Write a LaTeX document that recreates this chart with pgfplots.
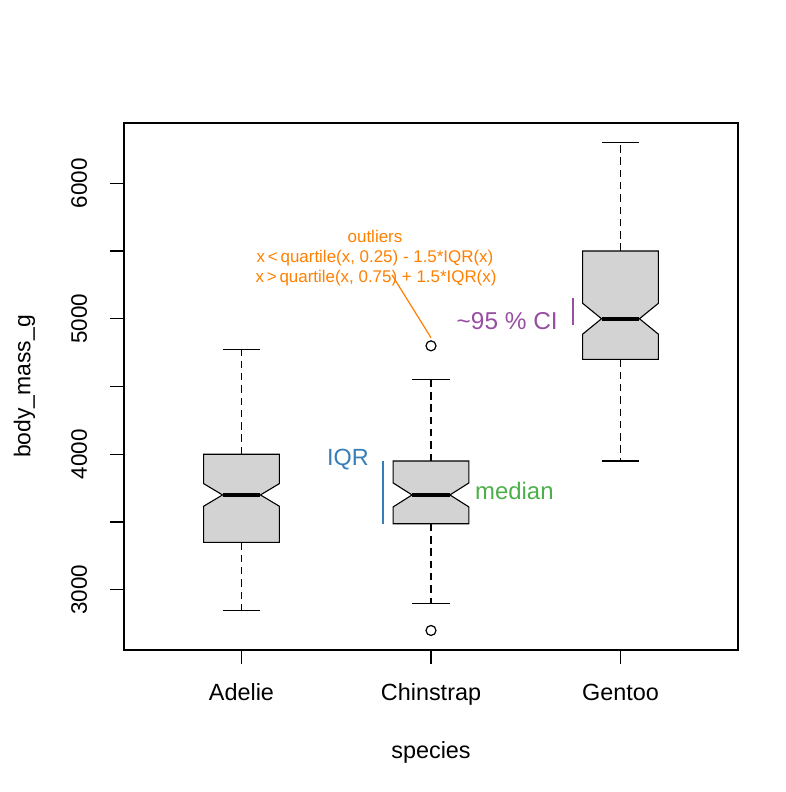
\documentclass[border=0pt]{standalone}
\usepackage{fontspec}
\setmainfont{Liberation Sans}
\usepackage{pgfplots}
\pgfplotsset{compat=1.18}
\definecolor{boxgray}{HTML}{D3D3D3}
\definecolor{anorange}{HTML}{FF7F00}
\definecolor{anblue}{HTML}{377EB8}
\definecolor{angreen}{HTML}{4DAF4A}
\definecolor{anpurple}{HTML}{984EA3}
\begin{document}
\begin{tikzpicture}
\begin{axis}[
  scale only axis, width=614bp, height=527bp,
  xmin=0.38, xmax=3.62, ymin=2556, ymax=6444,
  clip=false,
  axis line style={line width=1.1bp},
  tick style={line width=1.1bp, black},
  tick align=outside, major tick length=14bp,
  xtick pos=bottom, ytick pos=left,
  xtick={1,2,3}, xticklabels={Adelie,Chinstrap,Gentoo},
  ytick={3000,3500,4000,4500,5000,5500,6000},
  yticklabels={3000,,4000,,5000,,6000},
  xticklabel style={font=\fontsize{23.5}{27}\selectfont, anchor=base, yshift=-36bp},
  yticklabel style={font=\fontsize{22.5}{26}\selectfont, xshift=-23bp, rotate=90, anchor=base},
  every axis x label/.style={at={([yshift=-108bp]axis description cs:0.5,0)}, anchor=base, font=\fontsize{23.5}{27}\selectfont},
  every axis y label/.style={at={([xshift=-93.5bp]axis description cs:0,0.5)}, rotate=90, anchor=base, font=\fontsize{23}{27}\selectfont},
  xlabel={species}, ylabel={body\_mass\_g},
]
% ---- Adelie (x=1): whiskers 2850/4775, Q1 3350, med 3700, Q3 4000, notch 3616.4/3783.6
\addplot[black, line width=1.1bp, dash pattern=on 7.5bp off 4.8bp] coordinates {(1,4000) (1,4775)};
\addplot[black, line width=1.1bp, dash pattern=on 7.5bp off 4.8bp] coordinates {(1,3350) (1,2850)};
\addplot[black, line width=1.1bp] coordinates {(0.9,4775) (1.1,4775)};
\addplot[black, line width=1.1bp] coordinates {(0.9,2850) (1.1,2850)};
\addplot[black, line width=1.1bp, fill=boxgray] coordinates {
  (0.8,3350) (0.8,3616.4) (0.9,3700) (0.8,3783.6) (0.8,4000)
  (1.2,4000) (1.2,3783.6) (1.1,3700) (1.2,3616.4) (1.2,3350)} --cycle;
\addplot[black, line width=4bp] coordinates {(0.9,3700) (1.1,3700)};
% ---- Chinstrap (x=2): whiskers 2900/4550, Q1 3487.5, med 3700, Q3 3950, notch 3611.4/3788.6
\addplot[black, line width=1.1bp, dash pattern=on 7.5bp off 4.8bp] coordinates {(2,3950) (2,4550)};
\addplot[black, line width=1.1bp, dash pattern=on 7.5bp off 4.8bp] coordinates {(2,3487.5) (2,2900)};
\addplot[black, line width=1.1bp] coordinates {(1.9,4550) (2.1,4550)};
\addplot[black, line width=1.1bp] coordinates {(1.9,2900) (2.1,2900)};
\addplot[black, line width=1.1bp, fill=boxgray] coordinates {
  (1.8,3487.5) (1.8,3611.4) (1.9,3700) (1.8,3788.6) (1.8,3950)
  (2.2,3950) (2.2,3788.6) (2.1,3700) (2.2,3611.4) (2.2,3487.5)} --cycle;
\addplot[black, line width=4bp] coordinates {(1.9,3700) (2.1,3700)};
\addplot[only marks, mark=o, mark size=5bp, mark options={line width=1.2bp, black}] coordinates {(2,4800) (2,2700)};
% ---- Gentoo (x=3): whiskers 3950/6300, Q1 4700, med 5000, Q3 5500, notch 4886/5114
\addplot[black, line width=1.1bp, dash pattern=on 7.5bp off 4.8bp] coordinates {(3,5500) (3,6300)};
\addplot[black, line width=1.1bp, dash pattern=on 7.5bp off 4.8bp] coordinates {(3,4700) (3,3950)};
\addplot[black, line width=1.1bp] coordinates {(2.9,6300) (3.1,6300)};
\addplot[black, line width=1.1bp] coordinates {(2.9,3950) (3.1,3950)};
\addplot[black, line width=1.1bp, fill=boxgray] coordinates {
  (2.8,4700) (2.8,4886) (2.9,5000) (2.8,5114) (2.8,5500)
  (3.2,5500) (3.2,5114) (3.1,5000) (3.2,4886) (3.2,4700)} --cycle;
\addplot[black, line width=4bp] coordinates {(2.9,5000) (3.1,5000)};
% ---- annotations
\addplot[anorange, line width=1.2bp] coordinates {(1.794,5323) (2.0,4860)};
\node[anorange, anchor=base, font=\fontsize{17}{20}\selectfont] at (axis cs:1.7045,5566) {outliers};
\node[anorange, anchor=base, font=\fontsize{17}{20}\selectfont] at (axis cs:1.7045,5412) {x\,<\,quartile(x, 0.25) - 1.5*IQR(x)};
\node[anorange, anchor=base, font=\fontsize{17}{20}\selectfont] at (axis cs:1.71,5265) {x\,>\,quartile(x, 0.75) + 1.5*IQR(x)};
\addplot[anblue, line width=1.2bp] coordinates {(1.747,3487.5) (1.747,3950)};
\node[anblue, anchor=base, font=\fontsize{23.5}{27}\selectfont] at (axis cs:1.562,3919) {IQR};
\node[angreen, anchor=base west, inner sep=0pt, font=\fontsize{24}{28}\selectfont] at (axis cs:2.232,3669) {median};
\addplot[anpurple, line width=1.2bp] coordinates {(2.749,4956) (2.749,5154)};
\node[anpurple, anchor=base east, inner sep=0pt, font=\fontsize{24.5}{28}\selectfont] at (axis cs:2.670,4919) {\char`\~95 \% CI};
\coordinate (bl) at (rel axis cs:0,0);
\end{axis}
\pgfresetboundingbox
\path[use as bounding box] ([shift={(-124bp,-142bp)}]bl) rectangle +(786bp,792bp);
\end{tikzpicture}
\end{document}
